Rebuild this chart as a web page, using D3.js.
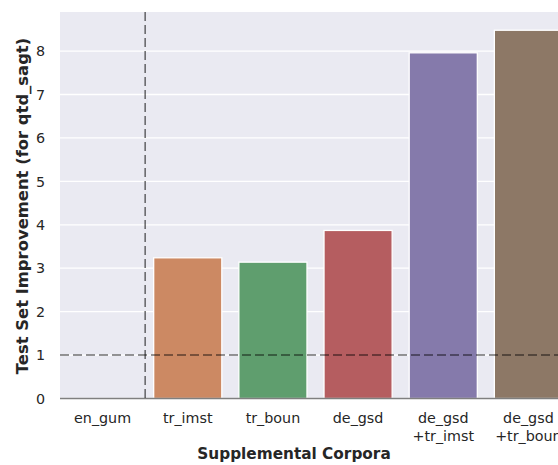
<!DOCTYPE html>
<html>
<head>
<meta charset="utf-8">
<script src="https://cdn.jsdelivr.net/npm/d3@7/dist/d3.min.js"></script>
<style>
html, body { margin: 0; padding: 0; background: #ffffff; overflow: hidden; }
svg { display: block; font-family: "DejaVu Sans", sans-serif; }
</style>
</head>
<body>
<svg id="chart" width="558" height="465"></svg>
<script>
const categories = ["en_gum", "tr_imst", "tr_boun", "de_gsd", "de_gsd\n+tr_imst", "de_gsd\n+tr_boun"];
const values = [0, 3.24, 3.14, 3.87, 7.96, 8.48];
const colors = ["#5975a4", "#cc8963", "#5f9e6e", "#b55d60", "#857aab", "#8d7866"];
const yTicks = [0, 1, 2, 3, 4, 5, 6, 7, 8];
const refValue = 1;

const svg = d3.select("#chart");
const mLeft = 60, mRight = 571, mTop = 12, mBottom = 398.5;

const x = d3.scaleBand().domain(categories).range([mLeft, mRight]).paddingInner(0.2).paddingOuter(0.1);
const y = d3.scaleLinear().domain([0, 8.9]).range([mBottom, mTop]);

// background
svg.append("rect").attr("x", mLeft).attr("y", mTop).attr("width", mRight - mLeft).attr("height", mBottom - mTop).attr("fill", "#eaeaf2");

// grid
svg.append("g").selectAll("line").data(yTicks).join("line")
  .attr("x1", mLeft).attr("x2", mRight)
  .attr("y1", d => y(d)).attr("y2", d => y(d))
  .attr("stroke", "#ffffff").attr("stroke-width", 1.3);

// bars
svg.append("g").selectAll("rect").data(categories).join("rect")
  .attr("x", d => x(d))
  .attr("width", x.bandwidth())
  .attr("y", (d, i) => y(values[i]))
  .attr("height", (d, i) => y(0) - y(values[i]))
  .attr("fill", (d, i) => colors[i])
  .attr("stroke", "#ffffff").attr("stroke-width", 1.3);

// bottom line at 0
svg.append("line").attr("x1", mLeft).attr("x2", mRight).attr("y1", y(0)).attr("y2", y(0))
  .attr("stroke", "#7f7f7f").attr("stroke-width", 1.3);

// reference lines
const step = x.step();
const vx = x(categories[0]) + x.bandwidth() / 2 + step / 2;
svg.append("line").attr("x1", vx).attr("x2", vx).attr("y1", mTop).attr("y2", mBottom)
  .attr("stroke", "#000").attr("stroke-opacity", 0.55).attr("stroke-width", 1.6).attr("stroke-dasharray", "9,4");
svg.append("line").attr("x1", mLeft).attr("x2", mRight).attr("y1", y(refValue)).attr("y2", y(refValue))
  .attr("stroke", "#000").attr("stroke-opacity", 0.55).attr("stroke-width", 1.6).attr("stroke-dasharray", "9,4");

// y tick labels
svg.append("g").selectAll("text").data(yTicks).join("text")
  .attr("x", 45).attr("y", d => y(d)).attr("dy", "0.36em")
  .attr("text-anchor", "end").attr("font-size", 14.3).attr("fill", "#262626")
  .text(d => d);

// x tick labels
const xl = svg.append("g").selectAll("text").data(categories).join("text")
  .attr("x", d => x(d) + x.bandwidth() / 2).attr("y", 423)
  .attr("text-anchor", "middle").attr("font-size", 14.3).attr("fill", "#262626");
xl.each(function(d) {
  const lines = d.split("\n");
  const t = d3.select(this);
  lines.forEach((ln, i) => {
    t.append("tspan").attr("x", x(d) + x.bandwidth() / 2).attr("dy", i === 0 ? 0 : 17.5).text(ln);
  });
});

// axis titles
svg.append("text").attr("x", 294).attr("y", 459).attr("text-anchor", "middle")
  .attr("font-size", 15.3).attr("font-weight", "bold").attr("fill", "#262626")
  .text("Supplemental Corpora");
svg.append("text").attr("transform", "translate(28,206) rotate(-90)")
  .attr("text-anchor", "middle").attr("font-size", 16.4).attr("font-weight", "bold").attr("fill", "#262626")
  .text("Test Set Improvement (for qtd_sagt)");
</script>
</body>
</html>
